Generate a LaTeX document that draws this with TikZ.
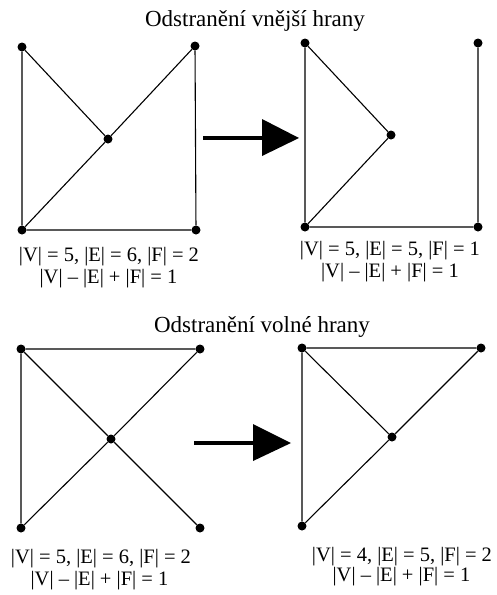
\documentclass[tikz,border=0pt]{standalone}
\usepackage{fontspec}
\setmainfont{Liberation Serif}
\begin{document}
\begin{tikzpicture}[x=1pt,y=-1pt,
  vtx/.style={circle,fill=black,inner sep=0pt,minimum size=9pt},
  edge/.style={line width=1.1pt,black},
  ttl/.style={anchor=base,inner sep=0pt,font=\fontsize{23}{27}\selectfont},
  lbl/.style={anchor=base,inner sep=0pt,font=\fontsize{20.5}{22}\selectfont},
  bigarrowline/.style={line width=4.7pt,black},
  bigarrowhead/.style={fill=black}]
\useasboundingbox (0,0) rectangle (496,595);

% titles
\node[ttl] (t1) at (255,26.5) {Odstranění vnější hrany};
\node[ttl] (t2) at (262,332) {Odstranění volné hrany};

% top-left graph
\node[vtx] (a1) at (22,47) {};
\node[vtx] (a2) at (195,46) {};
\node[vtx] (a3) at (108,139) {};
\node[vtx] (a4) at (22,230) {};
\node[vtx] (a5) at (196,230) {};
\draw[edge] (a1) -- (a3) (a3) -- (a2) (a3) -- (a4) (a1) -- (a4) (a4) -- (a5) (a2) -- (a5);

% top-right graph
\node[vtx] (b1) at (305,43) {};
\node[vtx] (b2) at (478,43) {};
\node[vtx] (b3) at (391,135) {};
\node[vtx] (b4) at (305,227) {};
\node[vtx] (b5) at (478,227) {};
\draw[edge] (b1) -- (b3) (b3) -- (b4) (b1) -- (b4) (b4) -- (b5) (b2) -- (b5);

% bottom-left graph
\node[vtx] (c1) at (21,349) {};
\node[vtx] (c2) at (200,349) {};
\node[vtx] (c3) at (111,439) {};
\node[vtx] (c4) at (21,528) {};
\node[vtx] (c5) at (200,528) {};
\draw[edge] (c1) -- (c2) (c1) -- (c3) (c2) -- (c3) (c3) -- (c4) (c3) -- (c5) (c1) -- (c4);

% bottom-right graph
\node[vtx] (d1) at (302,348) {};
\node[vtx] (d2) at (481,348) {};
\node[vtx] (d3) at (392,437) {};
\node[vtx] (d4) at (302,526) {};
\draw[edge] (d1) -- (d2) (d1) -- (d3) (d2) -- (d3) (d3) -- (d4) (d1) -- (d4);

% arrows
\coordinate (p1) at (203,138);
\coordinate (p2) at (263,138);
\draw[bigarrowline] (p1) -- (p2);
\fill[bigarrowhead] (262,119) -- (299,138) -- (262,156) -- cycle;
\coordinate (q1) at (194,443);
\coordinate (q2) at (254,443);
\draw[bigarrowline] (q1) -- (q2);
\fill[bigarrowhead] (253,424) -- (291,443) -- (253,461) -- cycle;

% labels
\node[lbl] (l1a) at (109,261.5) {|V| = 5, |E| = 6, |F| = 2};
\node[lbl] (l1b) at (108.5,283) {|V| – |E| + |F| = 1};
\node[lbl] (l2a) at (390,255) {|V| = 5, |E| = 5, |F| = 1};
\node[lbl] (l2b) at (390,277) {|V| – |E| + |F| = 1};
\node[lbl] (l3a) at (101,563) {|V| = 5, |E| = 6, |F| = 2};
\node[lbl] (l3b) at (99.5,585) {|V| – |E| + |F| = 1};
\node[lbl] (l4a) at (402,561) {|V| = 4, |E| = 5, |F| = 2};
\node[lbl] (l4b) at (401.5,581.5) {|V| – |E| + |F| = 1};
\end{tikzpicture}
\end{document}
